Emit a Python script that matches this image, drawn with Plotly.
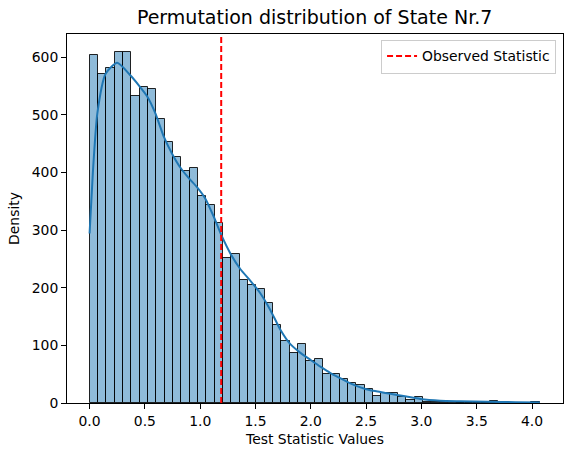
import plotly.graph_objects as go

# Histogram bins (left edges start at 0, equal width)
bin_start = 0.0
bin_width = 0.07537
counts = [604, 570, 581, 609, 608, 533, 548, 544, 492, 453,
          427, 403, 408, 359, 344, 312, 252, 258, 213, 204,
          198, 173, 136, 107, 86, 103, 72, 77, 50, 50,
          41, 35, 31, 25, 12, 18, 18, 11, 6, 11,
          2, 2, 1, 1, 0, 0, 0, 0, 4, 0,
          0, 0, 0, 1]

# KDE curve
kde_x = [0.0, 0.03, 0.07, 0.145, 0.25, 0.37, 0.445, 0.52, 0.596, 0.671,
         0.747, 0.822, 0.897, 0.973, 1.048, 1.123, 1.199, 1.274, 1.364, 1.454,
         1.545, 1.635, 1.725, 1.815, 1.906, 1.996, 2.087, 2.177, 2.267, 2.358,
         2.448, 2.538, 2.629, 2.719, 2.81, 2.99, 3.17, 3.35, 3.6, 3.85, 4.07]
kde_y = [294, 400, 502, 571, 590, 568, 551, 532, 502, 462,
         432, 408, 390, 374, 354, 323, 288, 259, 232, 212,
         190, 161, 127, 102, 87, 75, 63, 52, 43, 34,
         27, 22, 19, 16, 13, 7, 4, 3, 2, 1.5, 1]

observed = 1.19
x_ticks = [0.0, 0.5, 1.0, 1.5, 2.0, 2.5, 3.0, 3.5, 4.0]
y_ticks = [0, 100, 200, 300, 400, 500, 600]
y_max = 640

centers = [bin_start + (i + 0.5) * bin_width for i in range(len(counts))]

FONT = "DejaVu Sans"
FS = 13.9
fig = go.Figure()
fig.add_trace(go.Bar(
    x=centers, y=counts, width=[bin_width] * len(counts),
    marker=dict(color="rgba(31,119,180,0.5)", line=dict(color="rgba(0,0,0,0.85)", width=1)),
    showlegend=False, hoverinfo="skip"))
fig.add_trace(go.Scatter(
    x=kde_x, y=kde_y, mode="lines",
    line=dict(color="#1f77b4", width=2, shape="spline", smoothing=0.6),
    showlegend=False))
fig.add_trace(go.Scatter(
    x=[observed, observed], y=[0, y_max], mode="lines",
    line=dict(color="red", width=2, dash="6px,3px"),
    name="Observed Statistic"))

axis_common = dict(showline=True, linecolor="black", linewidth=1, mirror=True,
                   ticks="outside", ticklen=5, tickcolor="black", tickwidth=1,
                   showgrid=False, zeroline=False, automargin=False,
                   tickfont=dict(family=FONT, size=FS, color="black"))
fig.update_layout(
    width=571, height=456,
    margin=dict(l=67, r=8, t=34, b=53),
    paper_bgcolor="white", plot_bgcolor="white",
    bargap=0,
    title=dict(text="Permutation distribution of State Nr.7", x=0.551, xanchor="center",
               y=0.962, yanchor="middle", font=dict(family=FONT, size=19, color="black")),
    xaxis=dict(range=[-0.204, 4.28], tickvals=x_ticks,
               ticktext=[f"{v:.1f}" for v in x_ticks],
               title=dict(text="Test Statistic Values", font=dict(family=FONT, size=FS, color="black"), standoff=6),
               **axis_common),
    yaxis=dict(range=[0, y_max], tickvals=y_ticks,
               title=dict(text="Density", font=dict(family=FONT, size=FS, color="black"), standoff=8),
               **axis_common),
    legend=dict(x=0.986, y=0.985, xanchor="right", yanchor="top",
                bgcolor="white", bordercolor="#cccccc", borderwidth=1,
                font=dict(family=FONT, size=FS, color="black")),
)
fig.write_html("out.html", config={"displayModeBar": False},
               post_script="document.body.style.margin='0';document.body.style.padding='0';")
